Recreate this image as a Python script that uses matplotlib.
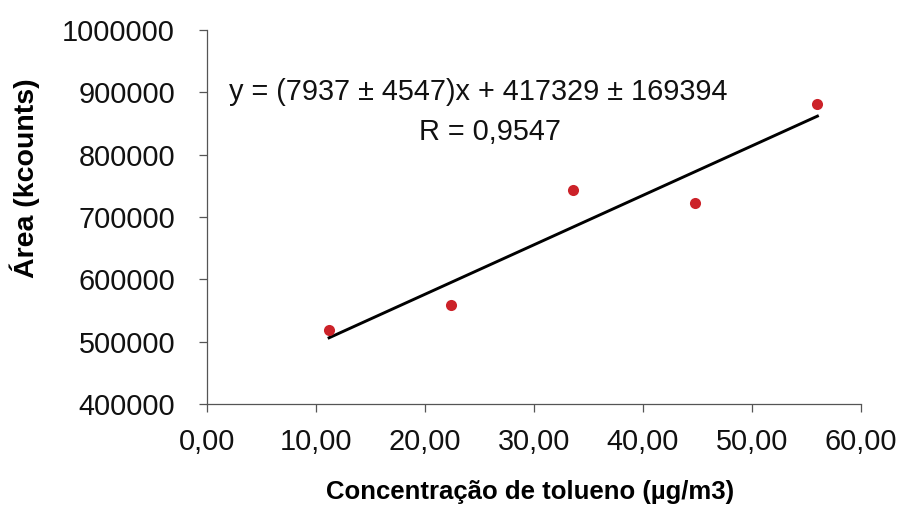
import matplotlib
matplotlib.use("Agg")
import matplotlib.pyplot as plt
import numpy as np

plt.rcParams['font.family'] = ['Liberation Sans', 'DejaVu Sans']

# data
conc = [11.2, 22.4, 33.6, 44.8, 56.0]
area = [519000, 559500, 744000, 723000, 882000]
slope = 7937
intercept = 417329
xticks = [0, 10, 20, 30, 40, 50, 60]
yticks = [400000, 500000, 600000, 700000, 800000, 900000, 1000000]

fig = plt.figure(figsize=(9, 5.08), dpi=100)
ax = fig.add_axes([0.23, 0.2047, 0.7267, 0.7363])

# fitted line over the data range
xf = np.array([conc[0], conc[-1]])
ax.plot(xf, slope * xf + intercept, color='black', lw=2.1, zorder=2)
ax.plot(conc, area, 'o', color='#cc2229', ms=8, mec='none', zorder=3)

ax.set_xlim(0, 60)
ax.set_ylim(400000, 1000000)
ax.set_xticks(xticks)
ax.set_yticks(yticks)
ax.set_xticklabels([('%.2f' % v).replace('.', ',') for v in xticks])
ax.set_yticklabels([str(v) for v in yticks])

for s in ['top', 'right']:
    ax.spines[s].set_visible(False)
for s in ['left', 'bottom']:
    ax.spines[s].set_color('#555555')
    ax.spines[s].set_linewidth(0.9)

ax.tick_params(axis='both', direction='out', length=6, width=0.9, color='#555555',
               labelsize=20.8, labelcolor='#111111')
ax.tick_params(axis='x', pad=11)
ax.tick_params(axis='y', pad=17)

ax.set_ylabel('Área (kcounts)', fontsize=20.5, fontweight='bold', va='center')
ax.yaxis.set_label_coords(-0.278, 0.604)
ax.set_xlabel('Concentração de tolueno (µg/m3)', fontsize=18.5, fontweight='bold', va='center')
ax.xaxis.set_label_coords(0.494, -0.235)

ax.text(24.9, 900000, 'y = (7937 ± 4547)x + 417329 ± 169394', fontsize=20.8,
        ha='center', va='center', color='#111111')
ax.text(26.0, 836000, 'R = 0,9547', fontsize=20.8, ha='center', va='center', color='#111111')

fig.savefig('out.png', dpi=100)
